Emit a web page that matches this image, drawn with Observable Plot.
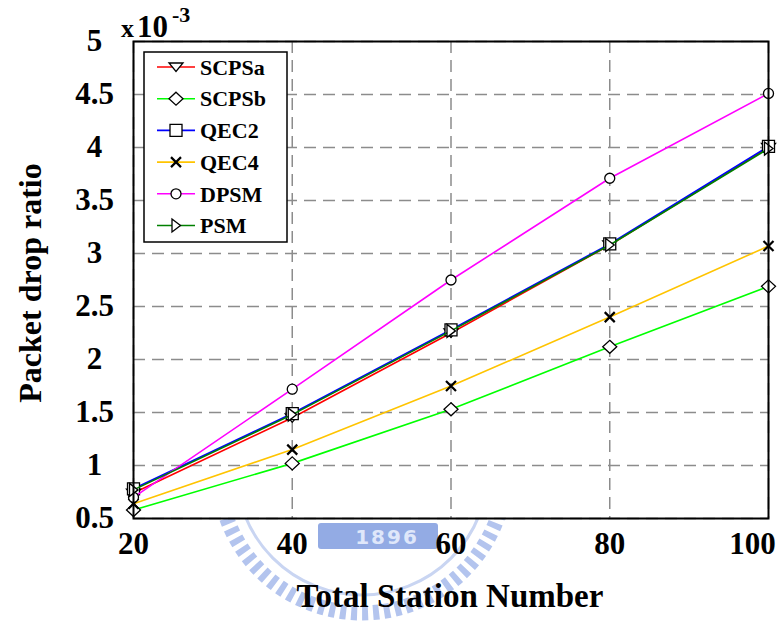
<!DOCTYPE html>
<html>
<head>
<meta charset="utf-8">
<script src="https://cdn.jsdelivr.net/npm/d3@7"></script>
<script src="https://cdn.jsdelivr.net/npm/@observablehq/plot@0.6"></script>
<style>
  body { margin: 0; background: white; }
  #wrap { position: relative; width: 781px; height: 625px; overflow: hidden; background: white; }
  #wrap > svg { position: absolute; left: 0; top: 0; }
</style>
</head>
<body>
<div id="wrap"></div>
<script>
// ---- data ----
const stations = [20, 40, 60, 80, 100];
const scpsa = [0.74, 1.45, 2.25, 3.08, 4.00];
const scpsb = [0.58, 1.02, 1.53, 2.12, 2.69];
const qec2  = [0.78, 1.49, 2.28, 3.09, 4.01];
const qec4  = [0.64, 1.15, 1.75, 2.40, 3.07];
const dpsm  = [0.70, 1.72, 2.75, 3.71, 4.51];
const psm   = [0.77, 1.48, 2.27, 3.08, 3.99];
const seriesNames = ["SCPSa", "SCPSb", "QEC2", "QEC4", "DPSM", "PSM"];
const seriesValues = [scpsa, scpsb, qec2, qec4, dpsm, psm];
const seriesColors = ["#ff0000", "#00ff00", "#0000ff", "#ffc400", "#ff00ff", "#008000"];
const xTicks = [20, 40, 60, 80, 100];
const yTicks = [0.5, 1, 1.5, 2, 2.5, 3, 3.5, 4, 4.5, 5];

// ---- marker shapes (MATLAB-like) ----
const mk = {
  triDown: {draw(c) { c.moveTo(-7, -4); c.lineTo(7, -4); c.lineTo(0, 4.5); c.closePath(); }},
  diamond: {draw(c) { c.moveTo(0, -6.5); c.lineTo(7, 0); c.lineTo(0, 6.5); c.lineTo(-7, 0); c.closePath(); }},
  square:  {draw(c) { c.moveTo(-6, -6); c.lineTo(6, -6); c.lineTo(6, 6); c.lineTo(-6, 6); c.closePath(); }},
  times:   {draw(c) { c.moveTo(-5, -5); c.lineTo(5, 5); c.moveTo(-5, 5); c.lineTo(5, -5); }},
  circle:  {draw(c) { c.moveTo(5, 0); c.arc(0, 0, 5, 0, 2 * Math.PI); c.closePath(); }},
  triRight:{draw(c) { c.moveTo(-4, -6.5); c.lineTo(4.5, 0); c.lineTo(-4, 6.5); c.closePath(); }}
};
const seriesMarkers = [mk.triDown, mk.diamond, mk.square, mk.times, mk.circle, mk.triRight];

const series = seriesNames.map((name, i) => ({
  name, color: seriesColors[i], marker: seriesMarkers[i],
  rows: stations.map((x, j) => ({x, y: seriesValues[i][j]}))
}));

const font = "'Liberation Serif', 'Times New Roman', serif";

// ---- watermark (decorative, behind the chart) ----
const wm = d3.select("#wrap").append("svg").attr("width", 781).attr("height", 625);
wm.append("circle").attr("cx", 362).attr("cy", 469).attr("r", 144)
  .attr("fill", "none").attr("stroke", "#b3c4ee").attr("stroke-width", 15).attr("stroke-dasharray", "6 5");
wm.append("circle").attr("cx", 362).attr("cy", 469).attr("r", 126)
  .attr("fill", "none").attr("stroke", "#c9d5f2").attr("stroke-width", 3);
wm.append("rect").attr("x", 318).attr("y", 523).attr("width", 120).attr("height", 26).attr("rx", 3)
  .attr("fill", "#93abe4");
wm.append("text").attr("x", 387).attr("y", 544).attr("text-anchor", "middle")
  .attr("font-family", "DejaVu Sans, sans-serif").attr("font-weight", "bold").attr("font-size", 20)
  .attr("letter-spacing", 2).attr("fill", "#dfe7fa").text("1896");

// ---- chart ----
const axisStyle = {tickSize: 0, fontSize: 31, fontWeight: "bold", label: null};
const chart = Plot.plot({
  width: 781, height: 625,
  marginLeft: 133, marginRight: 13, marginTop: 41, marginBottom: 107,
  x: {domain: [20, 100]},
  y: {domain: [0.5, 5]},
  style: {fontFamily: font, background: "none", color: "black", overflow: "visible"},
  marks: [
    Plot.frame({fill: "white", stroke: "none"}),
    Plot.gridX(xTicks, {stroke: "#8c8c8c", strokeOpacity: 1, strokeWidth: 1.5, strokeDasharray: "12,7"}),
    Plot.gridY(yTicks, {stroke: "#8c8c8c", strokeOpacity: 1, strokeWidth: 1.5, strokeDasharray: "12,7"}),
    ...series.flatMap(s => [
      Plot.line(s.rows, {x: "x", y: "y", stroke: s.color, strokeWidth: 1.6}),
      Plot.dot(s.rows, {x: "x", y: "y", symbol: s.marker, r: 5, fill: s.marker === mk.times ? "none" : "white",
        stroke: "black", strokeWidth: s.marker === mk.times ? 2.2 : 1.3})
    ]),
    Plot.frame({stroke: "black", strokeWidth: 2}),
    Plot.axisX(xTicks.slice(0, 4), {...axisStyle, tickPadding: 13, tickFormat: d => String(d)}),
    Plot.axisX(xTicks.slice(4), {...axisStyle, tickPadding: 13, dx: -16, tickFormat: d => String(d)}),
    Plot.axisY(yTicks, {...axisStyle, tickPadding: 39, textAnchor: "middle", tickFormat: d => String(d)})
  ]
});
document.getElementById("wrap").appendChild(chart);

const svg = d3.select(chart);
// axis titles
svg.append("text").attr("x", 450).attr("y", 607).attr("text-anchor", "middle")
  .attr("font-family", font).attr("font-weight", "bold").attr("font-size", 33).attr("fill", "black")
  .text("Total Station Number");
svg.append("text").attr("transform", "translate(41,283) rotate(-90)").attr("text-anchor", "middle")
  .attr("font-family", font).attr("font-weight", "bold").attr("font-size", 32).attr("fill", "black")
  .text("Packet drop ratio");
// exponent
const ex = svg.append("text").attr("font-family", font).attr("font-weight", "bold").attr("fill", "black")
  .attr("text-anchor", "start");
ex.append("tspan").attr("x", 121).attr("y", 37).attr("font-size", 26).text("x");
ex.append("tspan").attr("x", 137).attr("y", 37).attr("font-size", 31).text("10");
ex.append("tspan").attr("x", 172).attr("y", 22).attr("font-size", 22).text("-3");

// legend
const lg = svg.append("g").attr("text-anchor", "start");
lg.append("rect").attr("x", 144).attr("y", 52).attr("width", 143).attr("height", 190)
  .attr("fill", "white").attr("stroke", "black").attr("stroke-width", 1.5);
series.forEach((s, i) => {
  const cy = 67 + i * 31.7;
  lg.append("line").attr("x1", 157).attr("x2", 195).attr("y1", cy).attr("y2", cy)
    .attr("stroke", s.color).attr("stroke-width", 1.6);
  lg.append("path").attr("transform", `translate(176,${cy})`)
    .attr("d", d3.symbol().type(s.marker)())
    .attr("fill", s.marker === mk.times ? "none" : "white").attr("stroke", "black")
    .attr("stroke-width", s.marker === mk.times ? 2.2 : 1.3);
  lg.append("text").attr("x", 200).attr("y", cy).attr("dy", "0.35em").attr("text-anchor", "start")
    .attr("font-family", font).attr("font-weight", "bold").attr("font-size", 22).attr("fill", "black")
    .text(s.name);
});
</script>
</body>
</html>
